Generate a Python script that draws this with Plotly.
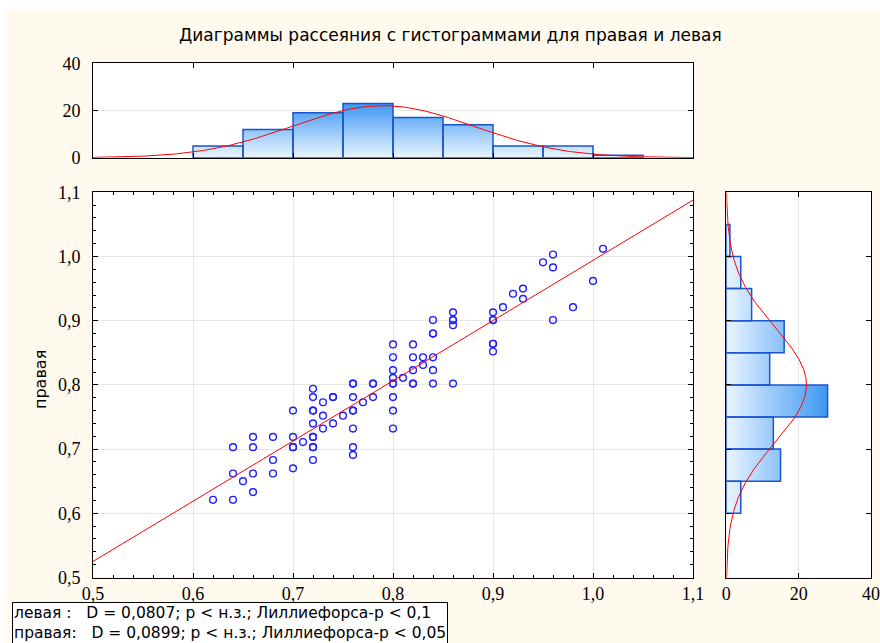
import numpy as np
import plotly.graph_objects as go

# ---------------- data ----------------
left_vals = [0.62, 0.64, 0.64, 0.64, 0.65, 0.66, 0.66, 0.66, 0.66, 0.68, 0.68, 0.68,
             0.70, 0.70, 0.70, 0.70, 0.70, 0.71, 0.72, 0.72, 0.72, 0.72, 0.72, 0.72,
             0.72, 0.72, 0.72, 0.72, 0.73, 0.73, 0.73, 0.74, 0.74, 0.74, 0.75, 0.76,
             0.76, 0.76, 0.76, 0.76, 0.76, 0.76, 0.76, 0.77, 0.78, 0.78, 0.78, 0.80,
             0.80, 0.80, 0.80, 0.80, 0.80, 0.80, 0.80, 0.80, 0.81, 0.82, 0.82, 0.82,
             0.82, 0.82, 0.83, 0.83, 0.84, 0.84, 0.84, 0.84, 0.84, 0.84, 0.86, 0.86,
             0.86, 0.86, 0.86, 0.90, 0.90, 0.90, 0.90, 0.90, 0.90, 0.91, 0.92, 0.93,
             0.93, 0.95, 0.96, 0.96, 0.96, 0.98, 1.00, 1.01]
right_vals = [0.621, 0.621, 0.662, 0.703, 0.650, 0.633, 0.662, 0.703, 0.719, 0.662, 0.683, 0.719,
              0.670, 0.703, 0.703, 0.719, 0.760, 0.711, 0.683, 0.703, 0.703, 0.719, 0.719, 0.740,
              0.760, 0.760, 0.781, 0.794, 0.732, 0.752, 0.773, 0.740, 0.781, 0.781, 0.752, 0.691,
              0.703, 0.732, 0.760, 0.760, 0.781, 0.802, 0.802, 0.773, 0.781, 0.802, 0.802, 0.732,
              0.760, 0.781, 0.802, 0.802, 0.811, 0.823, 0.843, 0.863, 0.811, 0.802, 0.802, 0.823,
              0.843, 0.863, 0.831, 0.843, 0.802, 0.823, 0.843, 0.880, 0.880, 0.901, 0.802, 0.893,
              0.901, 0.901, 0.913, 0.852, 0.864, 0.864, 0.901, 0.901, 0.913, 0.921, 0.942, 0.934,
              0.950, 0.991, 1.003, 0.983, 0.901, 0.921, 0.962, 1.012]

bin_edges = [0.60, 0.65, 0.70, 0.75, 0.80, 0.85, 0.90, 0.95, 1.00, 1.05]
left_counts = [5, 12, 19, 23, 17, 14, 5, 5, 1]
right_counts = [4, 15, 13, 28, 12, 16, 7, 4, 1]

n_total = 100
left_mean, left_sd = 0.79, 0.0905
right_mean, right_sd = 0.80, 0.090
reg_intercept, reg_slope = 0.056, 0.938

value_ticks = [0.5, 0.6, 0.7, 0.8, 0.9, 1.0, 1.1]
count_ticks = [0, 20, 40]

title_text = "Диаграммы рассеяния с гистограммами для правая и левая"
y_title = "правая"
stats_lines = ["левая :\u00a0\u00a0\u00a0D = 0,0807; p < н.з.; Лиллиефорса-p < 0,1",
               "правая:\u00a0\u00a0\u00a0D = 0,0899; p < н.з.; Лиллиефорса-p < 0,05"]

# ---------------- layout helpers ----------------
W, H = 880, 643
def fx(px):
    return px / W
def fy(py):
    return 1 - py / H

CREAM = "#FFF9EE"
BAR_LINE = "#1a55cc"
GRAD = [[0, "#eaf5ff"], [1, "#3d97f2"]]
SERIF = "Liberation Serif"
SANS = "DejaVu Sans"

fig = go.Figure()

# scatter
fig.add_trace(go.Scatter(
    x=left_vals, y=right_vals, mode="markers",
    marker=dict(symbol="circle-open", size=6.8, color="#1e1eff", line=dict(width=1.4)),
    xaxis="x", yaxis="y", showlegend=False))

# regression line
reg_x = np.array([value_ticks[0], value_ticks[-1]])
fig.add_trace(go.Scatter(
    x=reg_x, y=reg_intercept + reg_slope * reg_x, mode="lines",
    line=dict(color="#ff0000", width=1), xaxis="x", yaxis="y", showlegend=False))

# top histogram (left variable)
bx, by = [], []
for i, c in enumerate(left_counts):
    l, r = bin_edges[i], bin_edges[i + 1]
    bx += [l, l, r, r, l, None]
    by += [0, c, c, 0, 0, None]
fig.add_trace(go.Scatter(
    x=bx, y=by, mode="lines", fill="toself",
    fillgradient=dict(type="vertical", colorscale=GRAD, start=0, stop=max(left_counts)),
    line=dict(color=BAR_LINE, width=1.5), xaxis="x2", yaxis="y2", showlegend=False))

bw = bin_edges[1] - bin_edges[0]
gx = np.linspace(value_ticks[0], value_ticks[-1], 300)
fig.add_trace(go.Scatter(
    x=gx, y=n_total * bw / (left_sd * np.sqrt(2 * np.pi)) * np.exp(-0.5 * ((gx - left_mean) / left_sd) ** 2),
    mode="lines", line=dict(color="#ff0000", width=1), xaxis="x2", yaxis="y2", showlegend=False))

# right histogram (right variable)
hx, hy = [], []
for i, c in enumerate(right_counts):
    lo, hi = bin_edges[i], bin_edges[i + 1]
    hx += [0, c, c, 0, 0, None]
    hy += [lo, lo, hi, hi, lo, None]
fig.add_trace(go.Scatter(
    x=hx, y=hy, mode="lines", fill="toself",
    fillgradient=dict(type="horizontal", colorscale=GRAD, start=0, stop=max(right_counts)),
    line=dict(color=BAR_LINE, width=1.5), xaxis="x3", yaxis="y3", showlegend=False))

fig.add_trace(go.Scatter(
    x=n_total * bw / (right_sd * np.sqrt(2 * np.pi)) * np.exp(-0.5 * ((gx - right_mean) / right_sd) ** 2),
    y=gx, mode="lines", line=dict(color="#ff0000", width=1), xaxis="x3", yaxis="y3", showlegend=False))

tickfont = dict(family=SERIF, size=18, color="black")
common = dict(showline=True, linecolor="black", linewidth=1, mirror="ticks",
              ticks="inside", ticklen=5, tickcolor="black", zeroline=False,
              tickfont=tickfont)

main_dom_x = [fx(93), fx(693)]
main_dom_y = [fy(577.5), fy(192.3)]

fig.update_layout(
    width=W, height=H,
    margin=dict(l=0, r=0, t=0, b=0, autoexpand=False),
    paper_bgcolor=CREAM, plot_bgcolor="white",
    separators=", ",
    hovermode=False,
    xaxis=dict(domain=main_dom_x, anchor="y", range=[0.5, 1.1], tickvals=value_ticks,
               tickformat=".1f", showgrid=True, gridcolor="#e6e6e6",
               minor=dict(dtick=0.02, ticks="inside", ticklen=3, tickcolor="black", showgrid=False),
               **common),
    yaxis=dict(domain=main_dom_y, anchor="x", range=[0.5, 1.1], tickvals=value_ticks,
               tickformat=".1f", showgrid=True, gridcolor="#e6e6e6",
               minor=dict(dtick=0.02, ticks="inside", ticklen=3, tickcolor="black", showgrid=False),
               ticklabelstandoff=8, **common),
    xaxis2=dict(domain=main_dom_x, anchor="y2", range=[0.5, 1.1], tickvals=value_ticks,
                showticklabels=False, showgrid=False, **common),
    yaxis2=dict(domain=[fy(157.7), fy(63.3)], anchor="x2", range=[0, 40], tickvals=count_ticks,
                showgrid=True, gridcolor="#e6e6e6", ticklabelstandoff=8, **common),
    xaxis3=dict(domain=[fx(726.3), fx(871)], anchor="y3", range=[0, 40], tickvals=count_ticks,
                showgrid=True, gridcolor="#e6e6e6", ticklabeloverflow="allow", **common),
    yaxis3=dict(domain=main_dom_y, anchor="x3", range=[0.5, 1.1], tickvals=value_ticks,
                showticklabels=False, showgrid=False, **common),
)

# white strips outside the cream panel
fig.add_shape(type="rect", xref="paper", yref="paper", x0=0, x1=1, y0=fy(10), y1=1,
              fillcolor="white", line=dict(width=0), layer="above")
fig.add_shape(type="rect", xref="paper", yref="paper", x0=0, x1=fx(5), y0=0, y1=1,
              fillcolor="white", line=dict(width=0), layer="above")

fig.add_annotation(text=title_text, x=fx(450), y=fy(35), xref="paper", yref="paper",
                   xanchor="center", yanchor="middle", showarrow=False,
                   font=dict(family=SANS, size=17, color="black"))
fig.add_annotation(text=y_title, x=fx(40), y=fy(380), xref="paper", yref="paper",
                   xanchor="center", yanchor="middle", textangle=-90, showarrow=False,
                   font=dict(family=SANS, size=16, color="black"))
fig.add_annotation(text="<br>".join(stats_lines), x=fx(12), y=fy(602), xref="paper", yref="paper",
                   xanchor="left", yanchor="top", align="left", showarrow=False,
                   bgcolor="white", bordercolor="black", borderwidth=1, borderpad=1,
                   font=dict(family=SANS, size=15.5, color="black"))

fig.write_html("out.html", config={"displayModeBar": False},
               post_script="document.body.style.margin='0';document.body.style.overflow='hidden';")
